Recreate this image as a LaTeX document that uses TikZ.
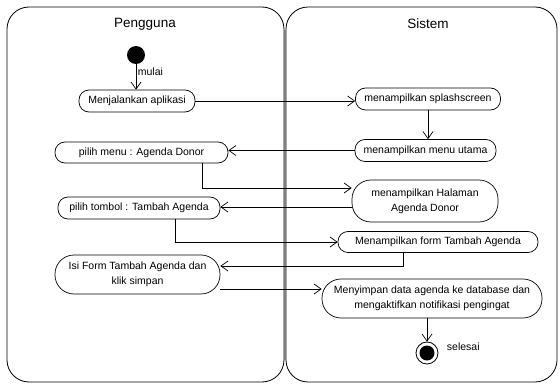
\documentclass[tikz,border=0pt]{standalone}
\usepackage{fontspec}
\setmainfont{Liberation Sans}
\usetikzlibrary{arrows.meta}

\begin{document}
\begin{tikzpicture}[x=1pt, y=-1pt, font=\fontsize{10.5}{15}\selectfont,
    aksi/.style={draw, line width=0.7pt, rounded corners=10pt, inner sep=2pt, align=center},
    aksidua/.style={aksi, rounded corners=19pt},
    alur/.style={-{Straight Barb[length=7pt,width=10pt]}, line width=0.7pt}]
    \useasboundingbox (0,0) rectangle (560,385);

    % Jalur (swimlane)
    \draw[line width=0.8pt, rounded corners=22pt] (7,7) rectangle (284,382);
    \draw[line width=0.8pt, rounded corners=22pt] (286,7) rectangle (557,382);
    \draw[gray, line width=2.5pt] (285,30) -- (285,360);
    \node[font=\fontsize{13.5}{16}\selectfont] (pengguna) at (145,24) {Pengguna};
    \node[font=\fontsize{13.5}{16}\selectfont] (sistem) at (428,24) {Sistem};

    % Awal dan akhir
    \node[circle, fill, minimum size=18pt, inner sep=0pt] (mulai) at (136,55) {};
    \node[circle, draw, line width=0.8pt, minimum size=22pt, inner sep=0pt] (selesai) at (427,353) {};
    \fill (selesai) circle (7.5pt);
    \node[anchor=west] (lblselesai) at ([xshift=5pt,yshift=6pt]selesai.east) {selesai};

    % Aktivitas
    \node[aksi, minimum width=116pt, minimum height=22pt] (jalan) at (137,101) {Menjalankan aplikasi};
    \node[aksi, minimum width=145pt, minimum height=22pt] (splash) at (428,99) {menampilkan splashscreen};
    \node[aksi, minimum width=141pt, minimum height=22pt] (menu) at (425.5,150.5) {menampilkan menu utama};
    \node[aksi, minimum width=173pt, minimum height=21pt] (pmenu) at (141.5,152.5) {pilih menu : Agenda Donor};
    \node[aksidua, minimum width=146pt, minimum height=42pt] (halaman) at (425,201) {menampilkan Halaman\\Agenda Donor};
    \node[aksi, minimum width=162pt, minimum height=22pt] (ptombol) at (139,208) {pilih tombol : Tambah Agenda};
    \node[aksi, minimum width=200pt, minimum height=21pt] (form) at (438,242) {Menampilkan form Tambah Agenda};
    \node[aksidua, minimum width=165pt, minimum height=39pt] (isi) at (137.5,274.5) {Isi Form Tambah Agenda dan\\klik simpan};
    \node[aksidua, minimum width=220pt, minimum height=39pt] (simpan) at (432,298.5) {Menyimpan data agenda ke database dan\\mengaktifkan notifikasi pengingat};

    % Alur
    \draw[alur] (mulai) -- node[pos=0.3, anchor=west, inner sep=1.5pt] {mulai} (mulai |- jalan.north);
    \draw[alur] (jalan.east) -- (jalan.east -| splash.west);
    \draw[alur] (splash.south) -- (splash.south |- menu.north);
    \draw[alur] (menu.west) -- (menu.west -| pmenu.east);
    \draw[alur] ([xshift=60.5pt]pmenu.south) |- ([yshift=13pt]halaman.west);
    \draw[alur] ([yshift=-6pt]halaman.west) coordinate (h1) -- (h1 -| ptombol.east);
    \draw[alur] ([xshift=36pt]ptombol.south) |- (form.west);
    \draw[alur] ([xshift=-35pt]form.south) |- ([yshift=8.5pt]isi.east);
    \draw[alur] ([yshift=-14.5pt]isi.east) coordinate (i1) -- (i1 -| simpan.west);
    \draw[alur] (selesai |- simpan.south) -- (selesai.north);
\end{tikzpicture}
\end{document}
